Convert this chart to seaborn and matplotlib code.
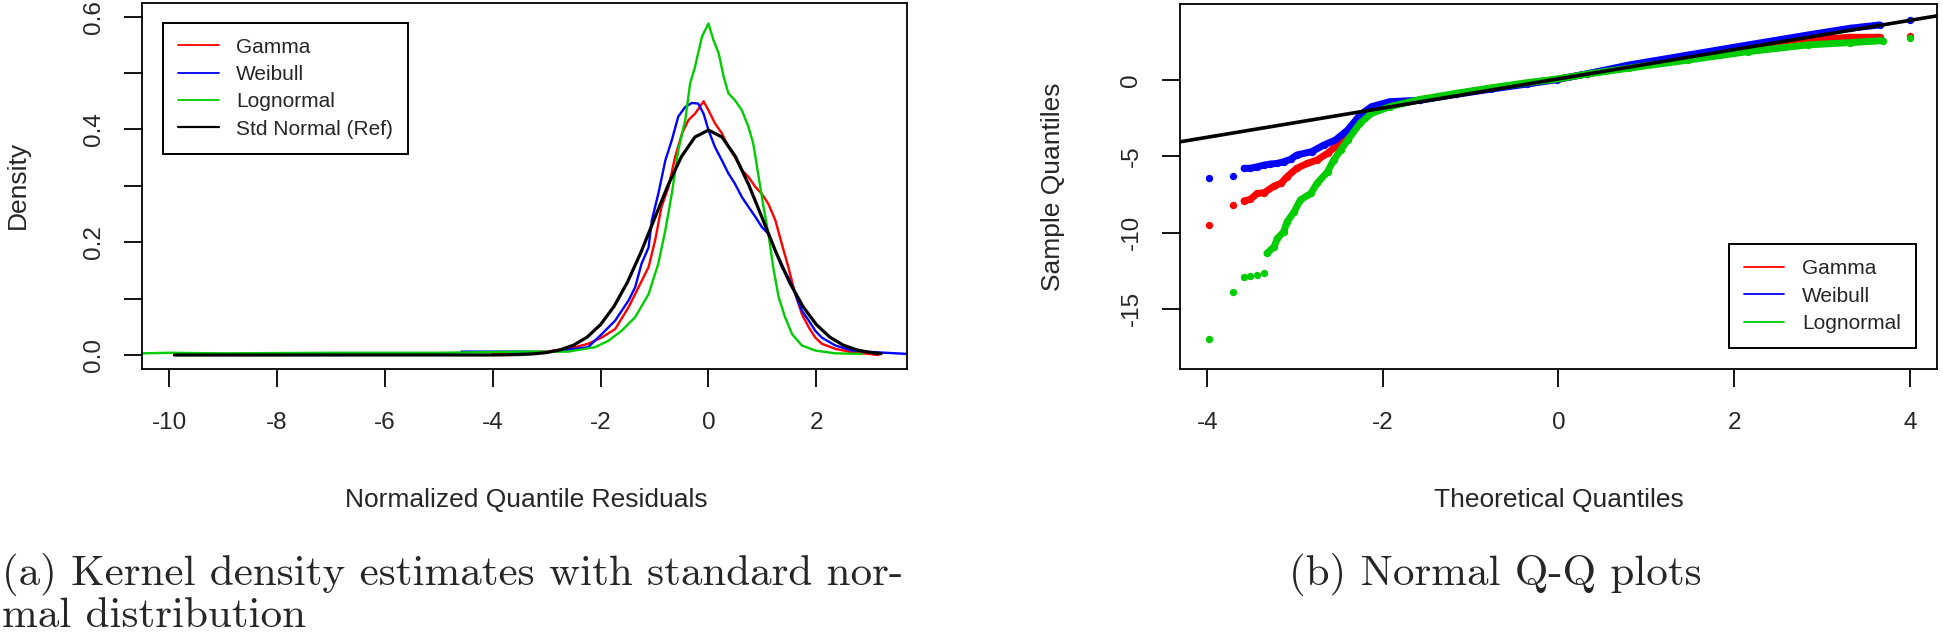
import matplotlib
matplotlib.use('Agg')
import matplotlib.pyplot as plt
from matplotlib.lines import Line2D
import seaborn as sns

# ---------------- (a) kernel density curves ----------------
gamma_x = [-4.0, -3.0, -2.47, -2.23, -1.98, -1.73, -1.48, -1.36, -1.11, -0.99, -0.87, -0.74,
           -0.62, -0.49, -0.37, -0.25, -0.09, 0.0, 0.12, 0.25, 0.37, 0.49, 0.62, 0.74, 0.87,
           0.99, 1.11, 1.24, 1.36, 1.48, 1.61, 1.73, 1.86, 1.98, 2.10, 2.35, 2.66, 3.15]
gamma_y = [0.004, 0.006, 0.014, 0.020, 0.031, 0.046, 0.085, 0.108, 0.156, 0.203, 0.263, 0.298,
           0.351, 0.393, 0.417, 0.428, 0.450, 0.434, 0.411, 0.393, 0.369, 0.351, 0.328, 0.316,
           0.298, 0.286, 0.268, 0.239, 0.197, 0.156, 0.108, 0.073, 0.049, 0.031, 0.020, 0.011,
           0.005, 0.0]

weibull_x = [-4.58, -3.5, -3.0, -2.72, -2.23, -1.98, -1.73, -1.48, -1.36, -1.24, -1.11, -1.05,
             -0.93, -0.80, -0.68, -0.56, -0.43, -0.31, -0.19, -0.09, 0.0, 0.12, 0.25, 0.37, 0.49,
             0.62, 0.74, 0.87, 0.99, 1.11, 1.24, 1.36, 1.48, 1.61, 1.73, 1.86, 1.98, 2.10, 2.35,
             2.66, 3.09, 3.68]
weibull_y = [0.006, 0.006, 0.005, 0.008, 0.014, 0.037, 0.061, 0.097, 0.120, 0.162, 0.191, 0.239,
             0.286, 0.345, 0.381, 0.423, 0.440, 0.447, 0.446, 0.428, 0.399, 0.369, 0.345, 0.322,
             0.304, 0.280, 0.263, 0.245, 0.227, 0.215, 0.185, 0.156, 0.138, 0.108, 0.079, 0.061,
             0.043, 0.031, 0.017, 0.008, 0.005, 0.002]

lognormal_x = [-10.5, -10.0, -9.0, -7.0, -5.0, -3.5, -2.6, -2.10, -1.86, -1.61, -1.36, -1.11,
               -0.93, -0.80, -0.68, -0.56, -0.43, -0.34, -0.25, -0.12, 0.0, 0.09, 0.19, 0.28,
               0.37, 0.49, 0.62, 0.74, 0.83, 0.93, 1.02, 1.11, 1.21, 1.30, 1.42, 1.55, 1.73,
               1.98, 2.35, 2.84]
lognormal_y = [0.003, 0.004, 0.003, 0.004, 0.004, 0.006, 0.006, 0.014, 0.025, 0.043, 0.067,
               0.108, 0.162, 0.221, 0.286, 0.363, 0.417, 0.482, 0.511, 0.565, 0.588, 0.559,
               0.535, 0.494, 0.464, 0.452, 0.434, 0.405, 0.375, 0.316, 0.263, 0.215, 0.150,
               0.103, 0.067, 0.037, 0.017, 0.008, 0.003, 0.002]

stdnorm_x = [-9.9, -4.0, -3.75, -3.5, -3.25, -3.0, -2.75, -2.5, -2.25, -2.0, -1.75, -1.5, -1.25,
             -1.0, -0.75, -0.5, -0.25, 0.0, 0.25, 0.5, 0.75, 1.0, 1.25, 1.5, 1.75, 2.0, 2.25,
             2.5, 2.75, 3.0, 3.2]
stdnorm_y = [0.0, 0.0001, 0.0004, 0.0009, 0.002, 0.0044, 0.0091, 0.0175, 0.0317, 0.054, 0.0863,
             0.1295, 0.1826, 0.242, 0.3011, 0.3521, 0.3867, 0.3989, 0.3867, 0.3521, 0.3011,
             0.242, 0.1826, 0.1295, 0.0863, 0.054, 0.0317, 0.0175, 0.0091, 0.0044, 0.0024]

# ---------------- (b) normal Q-Q points ----------------
qq_gamma_x = [-3.98, -3.71, -3.58, -3.51, -3.43, -3.35, -3.24, -3.16, -3.09, -2.98, -2.86, -2.75,
              -2.63, -2.54, -2.40, -2.26, -2.13, -1.99, -1.58, -1.17, -0.77, -0.36, -0.02, 0.32,
              0.80, 1.48, 2.16, 2.84, 3.32, 3.66, 4.0]
qq_gamma_y = [-9.51, -8.20, -7.92, -7.83, -7.44, -7.39, -6.96, -6.78, -6.34, -5.79, -5.47, -5.25,
              -4.81, -4.37, -3.50, -2.51, -1.97, -1.75, -1.31, -0.92, -0.55, -0.22, 0.04, 0.39,
              0.87, 1.53, 2.19, 2.62, 2.80, 2.80, 2.89]

qq_weibull_x = [-3.98, -3.71, -3.58, -3.51, -3.43, -3.35, -3.28, -3.20, -3.13, -3.05, -2.98, -2.81,
                -2.67, -2.54, -2.40, -2.26, -2.13, -1.92, -1.58, -1.17, -0.77, -0.36, -0.02, 0.32,
                0.80, 1.48, 2.16, 2.84, 3.32, 3.66, 4.0]
qq_weibull_y = [-6.45, -6.30, -5.79, -5.79, -5.69, -5.58, -5.51, -5.47, -5.36, -5.20, -4.92, -4.70,
                -4.26, -3.94, -3.28, -2.30, -1.75, -1.42, -1.33, -0.95, -0.60, -0.27, 0.02, 0.40,
                0.98, 1.64, 2.30, 2.95, 3.39, 3.61, 3.94]

qq_lognormal_x = [-3.98, -3.71, -3.58, -3.51, -3.43, -3.35, -3.32, -3.24, -3.20, -3.13, -3.09,
                  -3.01, -2.94, -2.82, -2.75, -2.63, -2.56, -2.48, -2.40, -2.26, -2.13, -1.92,
                  -1.58, -1.17, -0.77, -0.36, -0.02, 0.32, 0.80, 1.48, 2.16, 2.84, 3.32, 3.69, 4.0]
qq_lognormal_y = [-16.99, -13.93, -12.90, -12.82, -12.80, -12.64, -11.37, -10.94, -10.39, -9.95,
                  -9.30, -8.64, -7.87, -7.44, -6.78, -6.02, -5.25, -4.59, -3.94, -2.84, -2.19,
                  -1.75, -1.28, -0.88, -0.52, -0.18, 0.06, 0.38, 0.77, 1.31, 1.86, 2.30, 2.45,
                  2.58, 2.73]

qqline_x = [-4.4, 4.4]
qqline_y = [-4.14, 4.29]

dens_xticks = [-10, -8, -6, -4, -2, 0, 2]
dens_yticks = [0.0, 0.1, 0.2, 0.3, 0.4, 0.5, 0.6]
dens_yticklabels = ['0.0', '', '0.2', '', '0.4', '', '0.6']
qq_xticks = [-4, -2, 0, 2, 4]
qq_yticks = [-15, -10, -5, 0]

names = ['Gamma', 'Weibull', 'Lognormal']
colors = ['#FF0000', '#0000FF', '#00CD00']

sns.set_style('white')
plt.rcParams['font.family'] = ['Liberation Sans', 'DejaVu Sans']
plt.rcParams['axes.unicode_minus'] = False


def style_axes(ax):
    for sp in ax.spines.values():
        sp.set_color('black')
        sp.set_linewidth(1.3)
    ax.tick_params(axis='both', direction='out', length=13, width=1.3, color='black',
                   labelsize=17.5, bottom=True, left=True)
    ax.tick_params(axis='x', pad=18)
    ax.tick_params(axis='y', pad=14, labelrotation=90)
    for lbl in ax.get_yticklabels():
        lbl.set_va('center')


def make_legend(ax, handles, labels, loc, anchor):
    leg = ax.legend(handles, labels, loc=loc, bbox_to_anchor=anchor, borderaxespad=0,
                    fontsize=15, frameon=True, fancybox=False, framealpha=1,
                    edgecolor='black', handlelength=1.95, handletextpad=0.85,
                    labelspacing=0.4, borderpad=0.72)
    leg.get_frame().set_linewidth(1.4)
    return leg


fig = plt.figure(figsize=(19.43, 6.37), dpi=100)
ax1 = fig.add_axes([0.0731, 0.4207, 0.3937, 0.5741])
ax2 = fig.add_axes([0.6073, 0.4207, 0.3896, 0.5730])

# ---- (a) densities ----
dens_series = [(gamma_x, gamma_y), (weibull_x, weibull_y), (lognormal_x, lognormal_y)]
for (xs, ys), c in zip(dens_series, colors):
    sns.lineplot(x=xs, y=ys, ax=ax1, color=c, lw=1.7, sort=False, estimator=None)
sns.lineplot(x=stdnorm_x, y=stdnorm_y, ax=ax1, color='black', lw=2.3, sort=False, estimator=None)

ax1.set_xlim(-10.5, 3.68)
ax1.set_ylim(-0.0248, 0.6238)
ax1.set_xticks(dens_xticks)
ax1.set_yticks(dens_yticks)
ax1.set_yticklabels(dens_yticklabels)
ax1.set_xlabel('Normalized Quantile Residuals', fontsize=19)
ax1.set_ylabel('Density', fontsize=19)
ax1.xaxis.set_label_coords(0.502, -0.325)
ax1.yaxis.set_label_coords(-0.146, 0.503)
style_axes(ax1)

h1 = [Line2D([], [], color=c, lw=1.3) for c in colors] + [Line2D([], [], color='black', lw=1.6)]
make_legend(ax1, h1, names + ['Std Normal (Ref)'], 'upper left', (0.0275, 0.947))

# ---- (b) Q-Q ----
qq_series = [(qq_gamma_x, qq_gamma_y), (qq_weibull_x, qq_weibull_y),
             (qq_lognormal_x, qq_lognormal_y)]
band_start = [2, 2, 6]
for (xs, ys), c, s0 in zip(qq_series, colors, band_start):
    sns.lineplot(x=xs[s0:-1], y=ys[s0:-1], ax=ax2, color=c, lw=5, sort=False, estimator=None)
    sns.scatterplot(x=xs, y=ys, ax=ax2, color=c, s=28, linewidth=0)
sns.lineplot(x=qqline_x, y=qqline_y, ax=ax2, color='black', lw=2.6, sort=False, estimator=None)

ax2.set_xlim(-4.31, 4.31)
ax2.set_ylim(-18.95, 4.98)
ax2.set_xticks(qq_xticks)
ax2.set_yticks(qq_yticks)
ax2.set_xlabel('Theoretical Quantiles', fontsize=19)
ax2.set_ylabel('Sample Quantiles', fontsize=19)
ax2.xaxis.set_label_coords(0.5, -0.325)
ax2.yaxis.set_label_coords(-0.152, 0.5)
style_axes(ax2)

h2 = [Line2D([], [], color=c, lw=1.3) for c in colors]
make_legend(ax2, h2, names, 'lower right', (0.972, 0.0575))

# ---- captions ----
cap = dict(fontfamily='cmr10', fontsize=31, va='baseline')
fig.text(0.001, 1 - 585 / 637, '(a) Kernel density estimates with standard nor-', ha='left', **cap)
fig.text(0.001, 1 - 627 / 637, 'mal distribution', ha='left', **cap)
fig.text(1702 / 1943, 1 - 585 / 637, '(b) Normal Q-Q plots', ha='right', **cap)

fig.savefig('out.png', dpi=100)
